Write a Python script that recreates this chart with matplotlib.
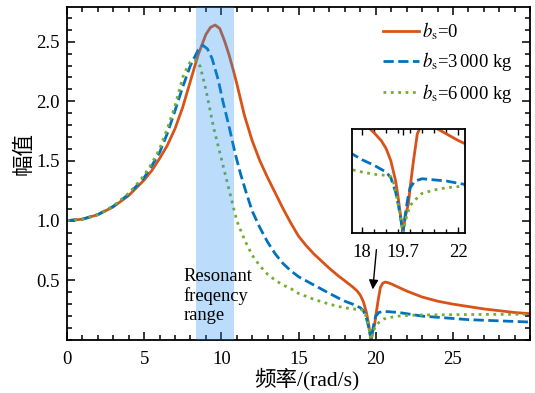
import matplotlib
matplotlib.use("Agg")
import matplotlib.pyplot as plt
from matplotlib.ticker import MultipleLocator

plt.rcParams['font.family'] = ['Liberation Serif', 'Noto Sans CJK SC', 'DejaVu Sans']
plt.rcParams['mathtext.fontset'] = 'stix'

# ---- data ----
x_b0 = [0, 1, 2, 3, 4, 5, 5.5, 6, 6.5, 7, 7.5, 8, 8.5, 9, 9.3, 9.6, 9.9, 10.2, 10.5,
        10.8, 11, 11.5, 12, 12.5, 13, 13.5, 14, 14.5, 15, 15.5, 16, 16.5, 17, 17.5,
        18, 18.5, 18.8, 19.0, 19.2, 19.4, 19.5, 19.6, 19.7, 19.8, 19.93, 20.0, 20.14,
        20.3, 20.45, 20.6, 20.8, 21.0, 21.5, 22, 23, 24, 25, 26, 27, 28, 29, 30]
y_b0 = [1.0, 1.012, 1.05, 1.115, 1.21, 1.34, 1.42, 1.52, 1.63, 1.77, 1.95, 2.17, 2.39,
        2.56, 2.62, 2.64, 2.61, 2.51, 2.39, 2.25, 2.15, 1.88, 1.67, 1.5, 1.36, 1.23,
        1.1, 0.98, 0.87, 0.79, 0.72, 0.66, 0.60, 0.545, 0.495, 0.445, 0.41, 0.375, 0.32,
        0.23, 0.16, 0.08, 0.0, 0.07, 0.13, 0.2, 0.32, 0.44, 0.475, 0.485, 0.48, 0.47,
        0.44, 0.41, 0.36, 0.325, 0.30, 0.28, 0.26, 0.245, 0.23, 0.22]

x_b3 = [0, 1, 2, 3, 4, 4.5, 5, 5.5, 6, 6.5, 7, 7.5, 8, 8.5, 8.8, 9.1, 9.4, 9.8, 10.1,
        10.5, 10.9, 11.25, 11.6, 12, 12.5, 13, 13.5, 14, 14.5, 15, 16, 17, 17.6, 18,
        18.5, 19.0, 19.2, 19.4, 19.5, 19.6, 19.7, 19.8, 19.9, 20.0, 20.2, 20.5, 21,
        21.5, 22, 23, 24, 25, 26, 27, 28, 29, 30]
y_b3 = [1.0, 1.012, 1.05, 1.12, 1.22, 1.29, 1.36, 1.46, 1.57, 1.73, 1.92, 2.12, 2.3,
        2.43, 2.47, 2.44, 2.36, 2.18, 2.0, 1.79, 1.56, 1.39, 1.24, 1.08, 0.94, 0.82,
        0.72, 0.64, 0.58, 0.53, 0.46, 0.39, 0.35, 0.325, 0.30, 0.27, 0.245, 0.18, 0.13,
        0.07, 0.0, 0.08, 0.15, 0.2, 0.23, 0.24, 0.235, 0.23, 0.22, 0.2, 0.19, 0.18,
        0.17, 0.165, 0.16, 0.155, 0.15]

x_b6 = [0, 1, 2, 3, 4, 4.5, 5, 5.5, 6, 6.5, 7, 7.5, 7.8, 8.0, 8.2, 8.4, 8.64, 9.0,
        9.5, 10, 10.5, 11, 11.5, 12, 12.5, 13, 13.5, 14, 14.5, 15, 16, 17, 17.6, 18,
        18.5, 19.0, 19.2, 19.3, 19.4, 19.5, 19.6, 19.7, 19.8, 19.9, 20.0, 20.2, 20.5,
        21, 21.5, 22, 23, 24, 25, 26, 27, 28, 29, 30]
y_b6 = [1.0, 1.012, 1.05, 1.12, 1.23, 1.3, 1.38, 1.48, 1.6, 1.77, 1.96, 2.2, 2.29,
        2.33, 2.35, 2.34, 2.29, 2.1, 1.78, 1.52, 1.26, 1.0, 0.84, 0.71, 0.62, 0.55,
        0.5, 0.46, 0.43, 0.39, 0.34, 0.30, 0.28, 0.27, 0.26, 0.255, 0.25, 0.23, 0.18,
        0.13, 0.07, 0.0, 0.05, 0.09, 0.12, 0.145, 0.175, 0.19, 0.2, 0.205, 0.21, 0.21,
        0.212, 0.213, 0.214, 0.214, 0.215, 0.215]

labels = [r'$b_{\mathrm{s}}$=0', r'$b_{\mathrm{s}}$=3$\,$000 kg', r'$b_{\mathrm{s}}$=6$\,$000 kg']
colors = ['#D95319', '#0072BD', '#77AC30']
styles = ['-', '--', ':']

band = (8.35, 10.8)

fig = plt.figure(figsize=(5.35, 3.93), dpi=100)
ax = fig.add_axes([0.125, 0.135, 0.866, 0.847])

series = [(x_b0, y_b0), (x_b3, y_b3), (x_b6, y_b6)]
for (xs, ys), lab, c, ls in zip(series, labels, colors, styles):
    ax.plot(xs, ys, color=c, ls=ls, lw=2.0, label=lab)

ax.axvspan(band[0], band[1], color='#1E91F2', alpha=0.3, lw=0, zorder=5)

ax.set_xlim(0, 30)
ax.set_ylim(0, 2.79)
ax.set_xticks([0, 5, 10, 15, 20, 25])
ax.set_yticks([0.5, 1.0, 1.5, 2.0, 2.5])
ax.xaxis.set_minor_locator(MultipleLocator(1))
ax.yaxis.set_minor_locator(MultipleLocator(0.1))
ax.tick_params(which='both', direction='in', top=True, right=True, labelsize=13.5, width=1.1)
ax.tick_params(which='major', length=6)
ax.tick_params(which='minor', length=3.5)
ax.tick_params(axis='x', which='both', pad=8)
ax.tick_params(axis='y', which='both', pad=5)
for s in ax.spines.values():
    s.set_linewidth(1.3)

ax.set_xlabel('频率/(rad/s)', fontsize=15.5)
ax.set_ylabel('幅值', fontsize=15.5)
ax.xaxis.set_label_coords(0.518, -0.085)
ax.yaxis.set_label_coords(-0.07, 0.56)

leg = ax.legend(loc='upper right', frameon=False, fontsize=13.5, handlelength=1.9,
                handletextpad=0.15, labelspacing=0.45, borderaxespad=0.3,
                bbox_to_anchor=(0.99, 1.0))

ax.text(7.55, 0.37, 'Resonant\nfreqency\nrange', fontsize=13.3, ha='left', va='center',
        linespacing=1.15, zorder=6)

ax.annotate('', xy=(19.79, 0.40), xytext=(20.06, 0.78),
            arrowprops=dict(arrowstyle='-|>', color='black', lw=1.0, mutation_scale=14))

# inset
axin = fig.add_axes([0.6585, 0.4079, 0.2107, 0.2631])
for (xs, ys), c, ls in zip(series, colors, styles):
    axin.plot(xs, ys, color=c, ls=ls, lw=2.0)
axin.set_xlim(17.6, 22.28)
axin.set_ylim(0, 0.46)
axin.set_xticks([18, 19.7, 22])
axin.set_xticklabels(['18', '19.7', '22'])
axin.xaxis.set_minor_locator(MultipleLocator(0.5))
axin.set_yticks([])
axin.tick_params(which='both', direction='in', top=True, labelsize=13.5, width=1.0, pad=8)
axin.tick_params(which='major', length=4)
axin.tick_params(which='minor', length=3)
for s in axin.spines.values():
    s.set_linewidth(1.3)

fig.savefig('out.png', dpi=100)
